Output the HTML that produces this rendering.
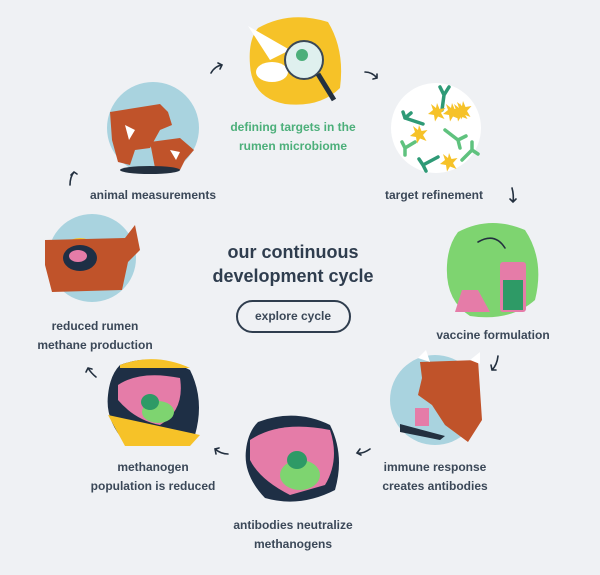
<!DOCTYPE html>
<html><head><meta charset="utf-8"><style>
html,body{margin:0;padding:0;background:#eff1f4;}
svg{display:block}
text{font-family:"Liberation Sans",sans-serif;fill:#3b4858;text-anchor:middle;}
.l{font-size:12px;font-weight:bold;}
.a{fill:none;stroke:#23303f;stroke-width:1.6;stroke-linecap:round}
.ab{fill:none;stroke:#5fc27e;stroke-width:3.5;stroke-linecap:round}
.ab2{fill:none;stroke:#2e9a76;stroke-width:3.5;stroke-linecap:round}
</style></head><body>
<svg width="600" height="575" viewBox="0 0 600 575">
<defs>
<path id="star" d="M0 -9 L2.5 -3 L8.5 -4 L4 1 L7.5 7 L1 4.5 L-2 9.5 L-3 3 L-9 2 L-4 -2 L-6 -8 L-1 -4Z" fill="#f6c228"/>
</defs>
<rect width="600" height="575" fill="#eff1f4"/>
<!-- top yellow -->
<path d="M258 28 Q290 10 328 22 Q345 50 340 88 Q320 108 285 104 Q252 98 250 65 Q248 40 258 28Z" fill="#f6c228"/>
<path d="M248 26 L290 50 L270 60Z" fill="#fff"/>
<ellipse cx="272" cy="72" rx="16" ry="10" fill="#fff"/>
<circle cx="304" cy="60" r="19" fill="#dff0ee" stroke="#3b4858" stroke-width="2"/>
<circle cx="302" cy="55" r="6" fill="#4caf7a"/>
<line x1="318" y1="74" x2="334" y2="100" stroke="#23303f" stroke-width="5"/>
<!-- top-left cow -->
<circle cx="153" cy="128" r="46" fill="#a9d3df"/>
<path d="M110 112 L160 104 L168 112 L172 125 L160 130 L150 148 L135 150 L130 165 L118 162 L112 140Z" fill="#c0532a"/>
<path d="M150 142 L180 138 L194 150 L185 160 L180 170 L155 168Z" fill="#c0532a"/>
<path d="M125 125 l10 5 l-6 10Z M170 150 l10 2 l-4 8Z" fill="#fff"/>
<ellipse cx="150" cy="170" rx="30" ry="4" fill="#23303f"/>
<!-- target refinement -->
<circle cx="436" cy="128" r="45" fill="#fff"/>
<g class="ab2"><path d="M442 110 L444 95 M444 95 l-4 -8 M444 95 l5 -8"/><path d="M405 118 l18 6 M405 118 l-2 -6 M405 118 l6 -5"/><path d="M423 165 l15 -8 M423 165 l-4 -6 M423 165 l3 6"/></g>
<g class="ab"><path d="M445 130 L458 140 M458 140 l8 -4 M458 140 l2 8"/><path d="M405 148 l10 -6 M405 148 l-3 -6 M405 148 l0 7"/><path d="M462 160 l10 -10 M472 150 l0 -8 M472 150 l6 4"/></g>
<use href="#star" x="452" y="112"/><use href="#star" x="460" y="112" transform="translate(0,0)"/>
<use href="#star" x="419" y="134"/><use href="#star" x="459" y="110" opacity="0"/>
<use href="#star" x="463" y="110"/><use href="#star" x="437" y="112"/><use href="#star" x="449" y="162"/>
<!-- left cow -->
<circle cx="92" cy="258" r="44" fill="#a9d3df"/>
<circle cx="80" cy="260" r="22" fill="#f6c228"/>
<path d="M45 240 L125 238 L135 225 L140 250 L128 262 L122 290 L52 292 L45 265Z" fill="#c0532a"/>
<ellipse cx="80" cy="258" rx="17" ry="13" fill="#1e2f45"/>
<ellipse cx="78" cy="256" rx="9" ry="6" fill="#e57ca8"/>
<!-- vaccine green -->
<path d="M458 232 Q490 215 525 230 Q545 260 535 300 Q510 322 470 316 Q445 300 447 265 Q448 245 458 232Z" fill="#7ed470"/>
<path d="M462 290 L478 290 L490 312 L455 312Z" fill="#e57ca8"/>
<rect x="500" y="262" width="26" height="50" rx="3" fill="#e57ca8"/>
<rect x="503" y="280" width="20" height="30" fill="#2e9a66"/>
<path d="M478 242 Q495 232 505 248" class="a"/>
<!-- immune -->
<circle cx="435" cy="400" r="45" fill="#a9d3df"/>
<path d="M420 362 L478 360 L482 420 L468 442 L445 425 L432 405 L418 395 L422 378Z" fill="#c0532a"/>
<path d="M418 358 l8 -8 l4 12Z M470 360 l10 -8 l0 12Z" fill="#fff"/>
<rect x="415" y="408" width="14" height="18" fill="#e57ca8"/>
<path d="M400 432 L440 440 L445 436 L400 424Z" fill="#23303f"/>
<!-- methanogen -->
<path d="M120 365 Q155 352 190 370 Q205 400 195 435 Q160 452 125 442 Q105 420 108 395 Q110 375 120 365Z" fill="#1e2f45"/>
<path d="M108 415 L200 435 L190 446 L125 446Z" fill="#f6c228"/>
<path d="M120 365 Q155 352 190 368 L120 368Z" fill="#f6c228"/>
<path d="M118 385 Q140 370 180 378 Q185 410 160 425 Q135 420 118 400Z" fill="#e57ca8"/>
<ellipse cx="158" cy="412" rx="16" ry="11" fill="#7ed470"/>
<ellipse cx="150" cy="402" rx="9" ry="8" fill="#2e9a66"/>
<!-- antibodies neutralize -->
<path d="M258 422 Q295 408 330 425 Q345 455 335 490 Q300 508 265 498 Q243 475 246 450 Q248 432 258 422Z" fill="#1e2f45"/>
<path d="M250 440 Q280 420 330 430 Q340 460 325 485 L290 495 Q260 480 250 460Z" fill="#e57ca8"/>
<ellipse cx="300" cy="475" rx="20" ry="15" fill="#7ed470"/>
<ellipse cx="297" cy="460" rx="10" ry="9" fill="#2e9a66"/>
<!-- arrows -->
<path d="M211 73 Q215 66 222 65 M218 63 l4 2 l-2 4" class="a"/>
<path d="M365 72 Q372 72 377 78 M373 79 l4 -1 l0 -4" class="a"/>
<path d="M512 188 Q514 195 513 202 M510 199 l3 3 l3 -3" class="a"/>
<path d="M498 356 Q497 365 492 370 M491 365 l1 5 l4 0" class="a"/>
<path d="M370 449 Q363 454 357 453 M360 449 l-3 4 l4 2" class="a"/>
<path d="M228 454 Q221 454 215 449 M216 454 l-1 -5 l4 -1" class="a"/>
<path d="M96 377 Q91 373 88 368 M86 372 l2 -4 l4 1" class="a"/>
<path d="M70 185 Q70 177 74 172 M71 175 l3 -3 l3 2" class="a"/>
<!-- labels -->
<text class="l" x="293" y="131" style="fill:#4caf7a">defining targets in the</text>
<text class="l" x="293" y="150" style="fill:#4caf7a">rumen microbiome</text>
<text class="l" x="153" y="199">animal measurements</text>
<text class="l" x="434" y="199">target refinement</text>
<text x="293" y="258" style="font-size:18px;font-weight:bold;fill:#2f3d4e">our continuous</text>
<text x="293" y="282" style="font-size:18px;font-weight:bold;fill:#2f3d4e">development cycle</text>
<rect x="237" y="301" width="113" height="31" rx="15.5" fill="none" stroke="#2f3d4e" stroke-width="2"/>
<text class="l" x="293" y="320">explore cycle</text>
<text class="l" x="95" y="330">reduced rumen</text>
<text class="l" x="95" y="349">methane production</text>
<text class="l" x="493" y="339">vaccine formulation</text>
<text class="l" x="153" y="471">methanogen</text>
<text class="l" x="153" y="490">population is reduced</text>
<text class="l" x="435" y="471">immune response</text>
<text class="l" x="435" y="490">creates antibodies</text>
<text class="l" x="293" y="529">antibodies neutralize</text>
<text class="l" x="293" y="548">methanogens</text>
</svg>
</body></html>
